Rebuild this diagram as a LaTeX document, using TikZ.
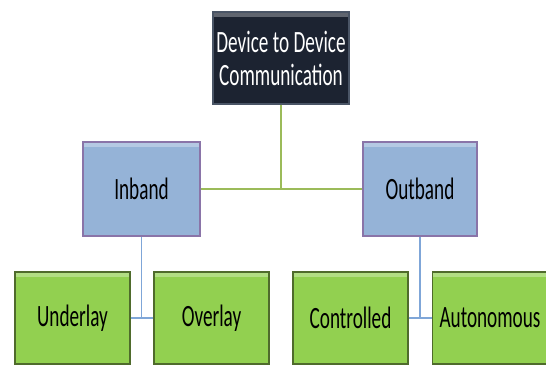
\documentclass[tikz,border=0pt]{standalone}
\usepackage{fontspec}
\setmainfont{Carlito}[FakeStretch=0.62]
\usetikzlibrary{positioning, calc}
\definecolor{rootfill}{HTML}{1C2331}
\definecolor{rootline}{HTML}{4A5566}
\definecolor{midfill}{HTML}{95B3D7}
\definecolor{midline}{HTML}{8A74A8}
\definecolor{leaffill}{HTML}{92D050}
\definecolor{leafline}{HTML}{4F6B2C}
\definecolor{glink}{HTML}{9BBB59}
\definecolor{blink}{HTML}{7FA6D8}
\tikzset{
  shine/.style={path picture={\fill[white, opacity=0.3]
      (path picture bounding box.north west) rectangle
      ([yshift=-5pt]path picture bounding box.north east);}},
  rootbox/.style={shine, draw=rootline, fill=rootfill, line width=1.2pt, inner sep=0pt,
                  minimum width=136pt, minimum height=92pt, align=center,
                  font=\fontsize{31}{33}\selectfont, text=white},
  midbox/.style={shine, draw=midline, fill=midfill, line width=1.2pt, inner sep=0pt,
                 minimum height=94pt, align=center,
                 font=\fontsize{31}{33}\selectfont, text=black},
  leafbox/.style={shine, draw=leafline, fill=leaffill, line width=1.2pt, inner sep=0pt,
                  minimum width=115pt, minimum height=92pt, align=center,
                  font=\fontsize{31}{33}\selectfont, text=black},
  gl/.style={draw=glink, line width=1.4pt},
  bl/.style={draw=blink, line width=1.4pt},
}
\begin{document}
\begin{tikzpicture}[x=1pt, y=1pt]
    \clip (0,0) rectangle (546,-364);
    \node[rootbox] (d2d) at (281,-58) {Device to Device\\Communication};
    \node[midbox, minimum width=117pt] (inb) at (141.5,-189) {Inband};
    \node[midbox, minimum width=114pt] (outb) at (420,-189) {Outband};
    \node[leafbox] (under) at (72.5,-318) {Underlay};
    \node[leafbox] (over) at (211.5,-318) {Overlay};
    \node[leafbox] (ctrl) at (350.5,-318) {Controlled};
    \node[leafbox] (auto) at (490,-318) {Autonomous};
    \draw[gl] (d2d) -- (d2d |- inb.east);
    \draw[gl] (inb) -- (outb);
    \draw[bl] (inb) -- (inb |- under.east);
    \draw[bl] (under) -- (over);
    \draw[bl] (outb) -- (outb |- ctrl.east);
    \draw[bl] (ctrl) -- (auto);
  \end{tikzpicture}
\end{document}
